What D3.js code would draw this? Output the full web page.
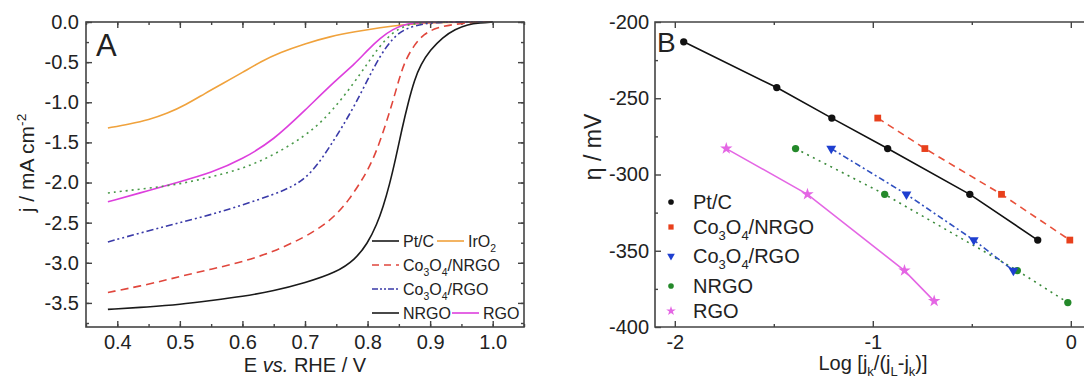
<!DOCTYPE html>
<html><head><meta charset="utf-8">
<script src="https://cdn.jsdelivr.net/npm/d3@7"></script>
<style>
body{margin:0;background:#fff;overflow:hidden}
svg{display:block}
text{font-family:"Liberation Sans",Arial,sans-serif;fill:#222}
</style></head><body>
<svg id="c" width="1084" height="378"></svg>
<script>
// ---------- Panel A data (E vs RHE / V , j / mA cm-2) ----------
const ePtC  = [0.385,0.45,0.5,0.55,0.6,0.65,0.7,0.75,0.78,0.8,0.815,0.825,0.835,0.845,0.855,0.865,0.875,0.885,0.9,0.92,0.94,0.96,0.98,1.0];
const jPtC  = [-3.58,-3.55,-3.52,-3.47,-3.42,-3.35,-3.25,-3.12,-2.96,-2.76,-2.52,-2.3,-2.03,-1.7,-1.33,-1.0,-0.72,-0.53,-0.35,-0.19,-0.09,-0.03,-0.01,0];
const eIrO2 = [0.385,0.42,0.45,0.48,0.51,0.54,0.57,0.6,0.63,0.66,0.7,0.74,0.78,0.82,0.86,0.9,0.95,1.0];
const jIrO2 = [-1.32,-1.27,-1.22,-1.14,-1.03,-0.89,-0.76,-0.63,-0.49,-0.38,-0.27,-0.18,-0.12,-0.07,-0.03,-0.01,0,0];
const eCoN  = [0.385,0.45,0.5,0.55,0.6,0.65,0.7,0.73,0.75,0.77,0.79,0.8,0.815,0.83,0.84,0.85,0.86,0.875,0.89,0.91,0.94,0.97,1.0];
const jCoN  = [-3.37,-3.27,-3.17,-3.08,-2.99,-2.86,-2.68,-2.53,-2.4,-2.22,-1.98,-1.85,-1.6,-1.25,-1.0,-0.72,-0.48,-0.28,-0.15,-0.07,-0.025,-0.005,0];
const eCoR  = [0.385,0.45,0.5,0.55,0.6,0.65,0.68,0.7,0.72,0.74,0.76,0.78,0.8,0.82,0.84,0.86,0.89,0.92,1.0];
const jCoR  = [-2.74,-2.6,-2.5,-2.4,-2.28,-2.15,-2.05,-1.95,-1.78,-1.55,-1.3,-1.03,-0.72,-0.42,-0.2,-0.08,-0.02,0,0];
const eNRGO = [0.385,0.45,0.5,0.55,0.6,0.65,0.7,0.73,0.76,0.79,0.81,0.83,0.85,0.87,0.9,1.0];
const jNRGO = [-2.13,-2.07,-2.02,-1.93,-1.83,-1.66,-1.42,-1.22,-0.95,-0.63,-0.4,-0.2,-0.08,-0.02,0,0];
const eRGO  = [0.385,0.45,0.5,0.55,0.6,0.65,0.7,0.75,0.78,0.8,0.82,0.84,0.86,0.88,1.0];
const jRGO  = [-2.24,-2.1,-1.99,-1.88,-1.71,-1.47,-1.1,-0.72,-0.52,-0.35,-0.2,-0.09,-0.03,0,0];

const xTicksA = [0.4,0.5,0.6,0.7,0.8,0.9,1.0];
const yTicksA = [0,-0.5,-1.0,-1.5,-2.0,-2.5,-3.0,-3.5];

// ---------- Panel B data (Log[jk/(jL-jk)], eta / mV) ----------
const logPtC = [-1.955,-1.485,-1.207,-0.925,-0.51,-0.167];
const etaPtC = [-213,-243,-263,-283,-313,-343];
const logCoN = [-0.975,-0.737,-0.35,-0.005];
const etaCoN = [-263,-283,-313,-343];
const logCoR = [-1.21,-0.83,-0.49,-0.29];
const etaCoR = [-283,-313,-343,-363];
const logNRGO = [-1.39,-0.94,-0.27,-0.015];
const etaNRGO = [-283,-313,-363,-384];
const logRGO = [-1.74,-1.33,-0.84,-0.69];
const etaRGO = [-283,-313,-363,-383];

const xTicksB = [-2,-1,0];
const yTicksB = [-200,-250,-300,-350,-400];

const svg = d3.select("#c");

function rich(sel, parts, base){
  let prev = 0;
  parts.forEach(([t,m])=>{
    const off = m===1 ? base*0.3 : (m===2 ? -base*0.4 : 0);
    sel.append("tspan").text(t)
      .attr("font-size", m ? base*0.65 : base)
      .attr("dy", off - prev);
    prev = off;
  });
}

// ================= Panel A =================
const xA = d3.scaleLinear([0.35,1.05],[86,524]);
const yA = d3.scaleLinear([-3.8,0],[327,22]);
const gA = svg.append("g");

const frameCol = "#444";
function styleAxis(g, fs){
  g.select(".domain").remove();
  g.selectAll(".tick line").attr("stroke",frameCol).attr("stroke-width",1.4);
  g.selectAll(".tick text").attr("font-size",fs).attr("fill","#222").attr("font-family","Liberation Sans, Arial, sans-serif");
}
const minorXA = d3.range(0.35,1.051,0.05).map(v=>+v.toFixed(2));
const minorYA = d3.range(-3.75,0.001,0.25).map(v=>+v.toFixed(2));

gA.append("g").attr("transform","translate(0,327)")
  .call(d3.axisBottom(xA).tickValues(xTicksA).tickSize(-6).tickPadding(8).tickFormat(d=>d.toFixed(1)))
  .call(g=>styleAxis(g,20));
gA.append("g").attr("transform","translate(0,327)")
  .call(d3.axisBottom(xA).tickValues(minorXA).tickSize(-3).tickFormat(""))
  .call(g=>styleAxis(g,20));
gA.append("g").attr("transform","translate(0,22)")
  .call(d3.axisTop(xA).tickValues(xTicksA).tickSize(-6).tickFormat(""))
  .call(g=>styleAxis(g,20));
gA.append("g").attr("transform","translate(0,22)")
  .call(d3.axisTop(xA).tickValues(minorXA).tickSize(-3).tickFormat(""))
  .call(g=>styleAxis(g,20));
gA.append("g").attr("transform","translate(86,0)")
  .call(d3.axisLeft(yA).tickValues(yTicksA).tickSize(-6).tickPadding(7).tickFormat(d=>d.toFixed(1)))
  .call(g=>styleAxis(g,20));
gA.append("g").attr("transform","translate(86,0)")
  .call(d3.axisLeft(yA).tickValues(minorYA).tickSize(-3).tickFormat(""))
  .call(g=>styleAxis(g,20));
gA.append("g").attr("transform","translate(524,0)")
  .call(d3.axisRight(yA).tickValues(yTicksA).tickSize(-6).tickFormat(""))
  .call(g=>styleAxis(g,20));
gA.append("g").attr("transform","translate(524,0)")
  .call(d3.axisRight(yA).tickValues(minorYA).tickSize(-3).tickFormat(""))
  .call(g=>styleAxis(g,20));

const seriesA = [
  {e:eIrO2,j:jIrO2,c:"#f0a23c",d:null},
  {e:eRGO,j:jRGO,c:"#dd3fdd",d:null},
  {e:eNRGO,j:jNRGO,c:"#4a9a4a",d:"2,4"},
  {e:eCoR,j:jCoR,c:"#3a3aa8",d:"7,3,2,3,2,3"},
  {e:eCoN,j:jCoN,c:"#e0463c",d:"8,5"},
  {e:ePtC,j:jPtC,c:"#1a1a1a",d:null}
];
const lineA = d3.line().x(d=>xA(d[0])).y(d=>yA(d[1])).curve(d3.curveBasis);
seriesA.forEach(s=>{
  gA.append("path").datum(s.e.map((v,i)=>[v,s.j[i]]))
    .attr("d",lineA).attr("fill","none").attr("stroke",s.c)
    .attr("stroke-width",1.6).attr("stroke-dasharray",s.d);
});

gA.append("rect").attr("x",86).attr("y",22).attr("width",438).attr("height",305)
  .attr("fill","none").attr("stroke",frameCol).attr("stroke-width",1.6);

gA.append("text").attr("x",96).attr("y",56).attr("font-size",31).text("A");

// legend A
const legA = [
  {x:372,y:241,c:"#1a1a1a",d:null,t:[["Pt/C",0]]},
  {x:437,y:241,c:"#f0a23c",d:null,t:[["IrO",0],["2",1]]},
  {x:372,y:265,c:"#e0463c",d:"7,5",t:[["Co",0],["3",1],["O",0],["4",1],["/NRGO",0]]},
  {x:372,y:289,c:"#3a3aa8",d:"6,2,2,2,2,2",t:[["Co",0],["3",1],["O",0],["4",1],["/RGO",0]]},
  {x:372,y:313,c:"#1a1a1a",d:null,t:[["NRGO",0]]},
  {x:452,y:313,c:"#dd3fdd",d:null,t:[["RGO",0]]}
];
legA.forEach(l=>{
  gA.append("line").attr("x1",l.x).attr("x2",l.x+27).attr("y1",l.y).attr("y2",l.y)
    .attr("stroke",l.c).attr("stroke-width",1.6).attr("stroke-dasharray",l.d);
  const t = gA.append("text").attr("x",l.x+31).attr("y",l.y+6).attr("font-size",16);
  rich(t,l.t,16);
});

// axis titles A
const tAx = gA.append("text").attr("x",305).attr("y",372).attr("text-anchor","middle").attr("font-size",20);
tAx.append("tspan").text("E ");
tAx.append("tspan").text("vs.").attr("font-style","italic");
tAx.append("tspan").text(" RHE / V");
const tAy = gA.append("text").attr("transform","translate(34,163) rotate(-90)").attr("text-anchor","middle").attr("font-size",21);
rich(tAy,[["j / mA cm",0],["-2",2]],21);

// ================= Panel B =================
const xB = d3.scaleLinear([-2.1,0.2],[655,1110.4]);
const yB = d3.scaleLinear([-400,-200],[327,22]);
const gB = svg.append("g");
const minorXB = [-1.5,-0.5];
const minorYB = [-225,-275,-325,-375];

gB.append("g").attr("transform","translate(0,327)")
  .call(d3.axisBottom(xB).tickValues(xTicksB).tickSize(-6).tickPadding(8).tickFormat(d=>String(d)))
  .call(g=>styleAxis(g,20));
gB.append("g").attr("transform","translate(0,327)")
  .call(d3.axisBottom(xB).tickValues(minorXB).tickSize(-3).tickFormat(""))
  .call(g=>styleAxis(g,20));
gB.append("g").attr("transform","translate(0,22)")
  .call(d3.axisTop(xB).tickValues(xTicksB).tickSize(-6).tickFormat(""))
  .call(g=>styleAxis(g,20));
gB.append("g").attr("transform","translate(0,22)")
  .call(d3.axisTop(xB).tickValues(minorXB).tickSize(-3).tickFormat(""))
  .call(g=>styleAxis(g,20));
gB.append("g").attr("transform","translate(655,0)")
  .call(d3.axisLeft(yB).tickValues(yTicksB).tickSize(-6).tickPadding(6).tickFormat(d=>String(d)))
  .call(g=>styleAxis(g,20));
gB.append("g").attr("transform","translate(655,0)")
  .call(d3.axisLeft(yB).tickValues(minorYB).tickSize(-3).tickFormat(""))
  .call(g=>styleAxis(g,20));

gB.append("path").attr("d",`M1110,22H655V327H1110`).attr("fill","none")
  .attr("stroke",frameCol).attr("stroke-width",1.6);

const seriesB = [
  {x:logRGO,y:etaRGO,c:"#e466e4",lc:"#e466e4",d:null,m:"star"},
  {x:logNRGO,y:etaNRGO,c:"#24892a",lc:"#3a8a3a",d:"2,4.5",m:"circle"},
  {x:logCoR,y:etaCoR,c:"#1e3fd0",lc:"#3050c0",d:"6,3,2,3",m:"tri"},
  {x:logCoN,y:etaCoN,c:"#e8401c",lc:"#e8503a",d:"7,5",m:"square"},
  {x:logPtC,y:etaPtC,c:"#111",lc:"#111",d:null,m:"circle"}
];
const lineB = d3.line().x(d=>xB(d[0])).y(d=>yB(d[1]));
function marker(g,type,cx,cy,col,scale){
  const k = scale||1;
  let sym, size, rot=0;
  if(type==="circle"){sym=d3.symbolCircle;size=42*k;}
  else if(type==="square"){sym=d3.symbolSquare;size=46*k;}
  else if(type==="tri"){sym=d3.symbolTriangle;size=42*k;rot=180;}
  else {sym=d3.symbolStar;size=48*k;}
  g.append("path").attr("d",d3.symbol(sym,size)())
    .attr("transform",`translate(${cx},${cy}) rotate(${rot})`).attr("fill",col);
}
seriesB.forEach(s=>{
  const pts = s.x.map((v,i)=>[v,s.y[i]]);
  gB.append("path").datum(pts).attr("d",lineB).attr("fill","none")
    .attr("stroke",s.lc).attr("stroke-width",1.6).attr("stroke-dasharray",s.d);
});
seriesB.forEach(s=>{
  s.x.forEach((v,i)=>marker(gB,s.m,xB(v),yB(s.y[i]),s.c,1));
});

gB.append("text").attr("x",657).attr("y",52).attr("font-size",28).text("B");

// legend B
const legB = [
  {y:202,m:"circle",c:"#111",t:[["Pt/C",0]]},
  {y:227,m:"square",c:"#e8401c",t:[["Co",0],["3",1],["O",0],["4",1],["/NRGO",0]]},
  {y:256,m:"tri",c:"#1e3fd0",t:[["Co",0],["3",1],["O",0],["4",1],["/RGO",0]]},
  {y:286,m:"circle",c:"#24892a",t:[["NRGO",0]]},
  {y:311,m:"star",c:"#e466e4",t:[["RGO",0]]}
];
legB.forEach(l=>{
  marker(gB,l.m,671,l.y,l.c,0.6);
  const t = gB.append("text").attr("x",693).attr("y",l.y+7).attr("font-size",20);
  rich(t,l.t,20);
});

// axis titles B
const tBx = gB.append("text").attr("x",873).attr("y",370).attr("text-anchor","middle").attr("font-size",20);
rich(tBx,[["Log [j",0],["k",1],["/(j",0],["L",1],["-j",0],["k",1],[")]",0]],20);
gB.append("text").attr("transform","translate(601,147) rotate(-90)").attr("text-anchor","middle")
  .attr("font-size",23).text("η / mV");
</script></body></html>
